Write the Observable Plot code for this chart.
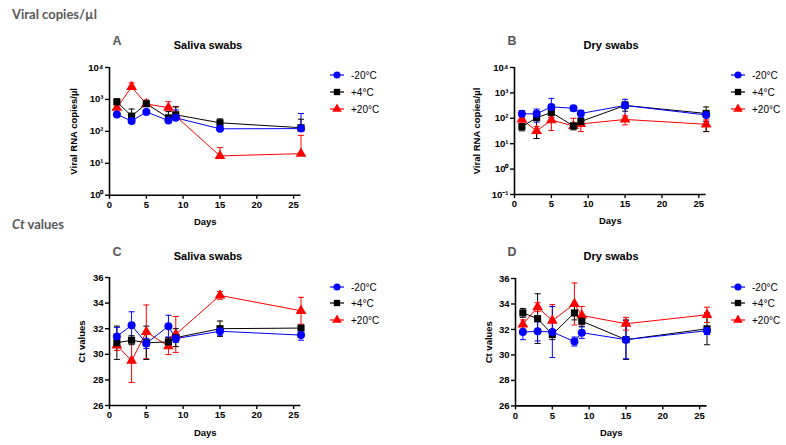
<!DOCTYPE html>
<html>
<head>
<meta charset="utf-8">
<script src="https://cdn.jsdelivr.net/npm/d3@7"></script>
<script src="https://cdn.jsdelivr.net/npm/@observablehq/plot@0.6"></script>
<style>
  body { margin: 0; background: white; }
  #root { position: relative; width: 786px; height: 445px; background: white; overflow: hidden; font-family: "Liberation Sans", Arial, sans-serif; }
  .abs { position: absolute; white-space: nowrap; }
  .section { font-family: Lato, "Open Sans", sans-serif; font-weight: bold; font-size: 13px; color: #595959; }
  .letter { font-family: "Liberation Sans", Arial, sans-serif; font-weight: bold; font-size: 12.5px; color: #555; transform: translateX(-50%); }
  .title { font-weight: bold; font-size: 11px; color: #000; transform: translateX(-50%); }
  .legend { font-size: 10px; color: #000; }
  .plotbox svg { overflow: visible; max-width: none; }
</style>
</head>
<body>
<div id="root"></div>
<script>
// ---------- data ----------
const days = [1, 3, 5, 8, 9, 15, 26];
const seriesNames = ["-20°C", "+4°C", "+20°C"];
const seriesColors = ["#0000ff", "#000000", "#ff0000"];
const seriesSymbols = ["circle", "square", "triangle"];

// A: Saliva swabs, viral RNA copies/µl (mean, SD)
const salivaCopiesM20 = [340, 210, 405, 218, 265, 120, 122];
const salivaCopiesM20Sd = [150, 40, 60, 40, 200, 60, 240];
const salivaCopiesP4 = [840, 300, 730, 265, 330, 185, 130];
const salivaCopiesP4Sd = [200, 200, 220, 150, 250, 60, 110];
const salivaCopiesP20 = [550, 2450, 720, 550, 300, 17, 20];
const salivaCopiesP20Sd = [150, 850, 150, 300, 300, 14, 55];

// B: Dry swabs, viral RNA copies/µl
const dryCopiesM20 = [150, 150, 280, 250, 155, 320, 135];
const dryCopiesM20Sd = [50, 80, 330, 60, 50, 240, 60];
const dryCopiesP4 = [47, 105, 170, 50, 75, 320, 155];
const dryCopiesP4Sd = [15, 89, 60, 15, 25, 130, 125];
const dryCopiesP20 = [90, 32, 85, 50, 60, 90, 58];
const dryCopiesP20Sd = [25, 16, 52, 50, 30, 35, 28];

// C: Saliva swabs, Ct values
const salivaCtM20 = [31.4, 32.27, 30.85, 32.2, 31.23, 31.8, 31.5];
const salivaCtM20Sd = [0.7, 1.05, 0.4, 0.85, 0.3, 0.35, 0.4];
const salivaCtP4 = [30.9, 31.1, 30.9, 30.97, 31.3, 32.0, 32.05];
const salivaCtP4Sd = [1.3, 0.35, 1.3, 0.35, 0.7, 0.6, 0.2];
const salivaCtP20 = [30.7, 29.5, 31.75, 30.63, 31.55, 34.6, 33.4];
const salivaCtP20Sd = [0.4, 1.7, 2.1, 0.65, 1.4, 0.3, 1.05];

// D: Dry swabs, Ct values
const dryCtM20 = [31.8, 31.85, 31.8, 31.05, 31.75, 31.2, 31.9];
const dryCtM20Sd = [0.6, 0.75, 2.0, 0.35, 0.45, 1.5, 0.3];
const dryCtP4 = [33.3, 32.85, 31.6, 33.3, 32.65, 31.2, 32.05];
const dryCtP4Sd = [0.35, 1.95, 0.4, 0.55, 0.4, 1.55, 1.25];
const dryCtP20 = [32.4, 33.75, 32.7, 34.0, 33.1, 32.45, 33.15];
const dryCtP20Sd = [0.35, 0.35, 1.25, 1.65, 0.7, 0.5, 0.6];

const xTicks = [0, 5, 10, 15, 20, 25];
const copiesTicksA = [1, 10, 100, 1000, 10000];
const copiesTicksB = [0.1, 1, 10, 100, 1000, 10000];
const ctTicks = [26, 28, 30, 32, 34, 36];

// ---------- helpers ----------
const supMap = {"-": "\u207B", "0": "\u2070", "1": "\u00B9", "2": "\u00B2", "3": "\u00B3", "4": "\u2074"};
const powFormat = d => "10" + String(Math.round(Math.log10(d))).replace(/./g, c => supMap[c]);

function buildRows(means, sds, logScale, upperOnly) {
  const rows = [];
  // draw order: +20 first, then +4, then -20 on top
  for (let s = seriesNames.length - 1; s >= 0; s--) {
    days.forEach((d, i) => {
      const v = means[s][i], sd = sds[s][i];
      const lo = v - sd;
      rows.push({day: d, value: v, hi: v + sd,
        lo: (upperOnly || (logScale && lo <= 0)) ? null : lo, series: seriesNames[s]});
    });
  }
  return rows;
}

const capSymbol = {
  draw(ctx, size) {
    const w = Math.sqrt(size / Math.PI);
    ctx.moveTo(-w, 0);
    ctx.lineTo(w, 0);
  }
};

const root = document.getElementById("root");

function addText(cls, text, left, top, html) {
  const el = document.createElement("div");
  el.className = "abs " + cls;
  if (html) el.innerHTML = text; else el.textContent = text;
  el.style.left = left + "px";
  el.style.top = top + "px";
  root.appendChild(el);
  return el;
}

function panel({rows, frameLeft, frameRight, frameTop, frameBottom, yScale, yLabel, yLabelOffset}) {
  const mL = 72, mT = 14, mR = 14, mB = 42;
  const left = frameLeft - mL, top = frameTop - mT;
  const width = frameRight - frameLeft + mL + mR;
  const height = frameBottom - frameTop + mT + mB;
  const yMin = yScale.domain[0];
  const chart = Plot.plot({
    width, height,
    marginLeft: mL, marginRight: mR, marginTop: mT, marginBottom: mB,
    style: {fontFamily: "'Liberation Sans', Arial, sans-serif", fontSize: "9px", background: "transparent", overflow: "visible"},
    x: {domain: [0, 26]},
    y: yScale,
    color: {domain: seriesNames, range: seriesColors},
    symbol: {domain: seriesNames, range: seriesSymbols},
    marks: [
      Plot.ruleX(rows, {x: "day", y1: d => d.lo ?? d.value, y2: "hi", stroke: "series", strokeWidth: 1}),
      Plot.dot(rows, {x: "day", y: "hi", symbol: capSymbol, r: 3, stroke: "series", strokeWidth: 1}),
      Plot.dot(rows.filter(d => d.lo != null), {x: "day", y: "lo", symbol: capSymbol, r: 3, stroke: "series", strokeWidth: 1}),
      Plot.line(rows, {x: "day", y: "value", z: "series", stroke: "series", strokeWidth: 1}),
      Plot.dot(rows, {x: "day", y: "value", symbol: "series", fill: "series", r: 4, stroke: "none"}),
      Plot.ruleX([0], {stroke: "#000", strokeWidth: 1.6}),
      Plot.ruleY([yMin], {stroke: "#000", strokeWidth: 1.6}),
      Plot.axisX({ticks: xTicks, tickSize: 4, tickPadding: 2, fontWeight: "bold", fontSize: 9.5, strokeWidth: 1.4,
        label: "Days", labelAnchor: "center", labelOffset: 30, labelArrow: "none"}),
      Plot.axisY({ticks: yScale.ticks, tickFormat: yScale.tickFormat, tickSize: 4, tickPadding: 2, fontWeight: "bold", fontSize: 9.5, strokeWidth: 1.4,
        label: yLabel, labelAnchor: "center", labelOffset: yLabelOffset, labelArrow: "none"})
    ]
  });
  const box = document.createElement("div");
  box.className = "abs plotbox";
  box.style.left = left + "px";
  box.style.top = top + "px";
  box.appendChild(chart);
  root.appendChild(box);
}

function legend(left, tops) {
  seriesNames.forEach((name, i) => {
    const row = document.createElement("div");
    row.className = "abs legend";
    row.style.left = left + "px";
    row.style.top = (tops[i] - 7) + "px";
    row.style.display = "flex";
    row.style.alignItems = "center";
    row.style.height = "14px";
    const svg = d3.create("svg").attr("width", 16).attr("height", 14).style("display", "block");
    svg.append("line").attr("x1", 1).attr("x2", 15).attr("y1", 7).attr("y2", 7).attr("stroke", seriesColors[i]).attr("stroke-width", 1.2);
    const symType = [d3.symbolCircle, d3.symbolSquare, d3.symbolTriangle][i];
    svg.append("path").attr("d", d3.symbol(symType, 40)()).attr("transform", "translate(8,7)").attr("fill", seriesColors[i]);
    row.appendChild(svg.node());
    const t = document.createElement("span");
    t.textContent = name;
    t.style.marginLeft = "6px";
    row.appendChild(t);
    root.appendChild(row);
  });
}

// ---------- page ----------
addText("section", "Viral copies/\u00B5l", 12, 6);
addText("section", "<i>Ct</i> values", 12, 216, true);

addText("letter", "A", 117, 34);
addText("title", "Saliva swabs", 208, 39);
addText("letter", "B", 512, 34);
addText("title", "Dry swabs", 611, 39);
addText("letter", "C", 117, 245);
addText("title", "Saliva swabs", 208, 250);
addText("letter", "D", 512, 245);
addText("title", "Dry swabs", 611, 250);

panel({
  rows: buildRows([salivaCopiesM20, salivaCopiesP4, salivaCopiesP20], [salivaCopiesM20Sd, salivaCopiesP4Sd, salivaCopiesP20Sd], true, true),
  frameLeft: 109, frameRight: 300.5, frameTop: 67.3, frameBottom: 195,
  yScale: {type: "log", domain: [1, 10000], ticks: copiesTicksA, tickFormat: powFormat},
  yLabel: "Viral RNA copies/\u00B5l", yLabelOffset: 39
});
panel({
  rows: buildRows([dryCopiesM20, dryCopiesP4, dryCopiesP20], [dryCopiesM20Sd, dryCopiesP4Sd, dryCopiesP20Sd], true, false),
  frameLeft: 514.3, frameRight: 706, frameTop: 67.3, frameBottom: 194.3,
  yScale: {type: "log", domain: [0.1, 10000], ticks: copiesTicksB, tickFormat: powFormat},
  yLabel: "Viral RNA copies/\u00B5l", yLabelOffset: 41
});
panel({
  rows: buildRows([salivaCtM20, salivaCtP4, salivaCtP20], [salivaCtM20Sd, salivaCtP4Sd, salivaCtP20Sd], false, false),
  frameLeft: 109.3, frameRight: 300.8, frameTop: 277.3, frameBottom: 405.3,
  yScale: {type: "linear", domain: [26, 36], ticks: ctTicks, tickFormat: d => String(d)},
  yLabel: "Ct values", yLabelOffset: 31
});
panel({
  rows: buildRows([dryCtM20, dryCtP4, dryCtP20], [dryCtM20Sd, dryCtP4Sd, dryCtP20Sd], false, false),
  frameLeft: 515, frameRight: 706.5, frameTop: 278.3, frameBottom: 405.7,
  yScale: {type: "linear", domain: [26, 36], ticks: ctTicks, tickFormat: d => String(d)},
  yLabel: "Ct values", yLabelOffset: 30
});

legend(329, [75, 92, 109]);
legend(730, [75, 92, 109]);
legend(329, [287, 303, 320]);
legend(730, [287, 303, 320]);
</script>
</body>
</html>
